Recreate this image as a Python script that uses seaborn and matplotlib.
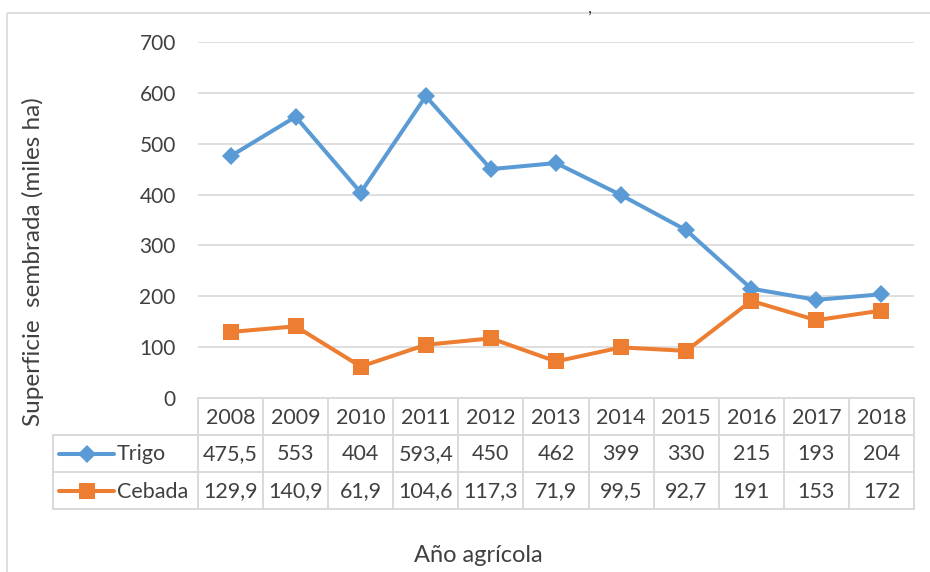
import matplotlib
matplotlib.use("Agg")
import matplotlib.pyplot as plt
import seaborn as sns
import pandas as pd
from matplotlib.lines import Line2D
from matplotlib.patches import Rectangle

years = ["2008", "2009", "2010", "2011", "2012", "2013", "2014", "2015", "2016", "2017", "2018"]
trigo = [475.5, 553, 404, 593.4, 450, 462, 399, 330, 215, 193, 204]
cebada = [129.9, 140.9, 61.9, 104.6, 117.3, 71.9, 99.5, 92.7, 191, 153, 172]
series_names = ["Trigo", "Cebada"]
y_ticks = [0, 100, 200, 300, 400, 500, 600, 700]

sns.set_theme(style="white")
plt.rcParams["font.family"] = ["Lato", "DejaVu Sans"]

W, H = 930, 572
fig = plt.figure(figsize=(W / 100, H / 100), dpi=100)

# pixel layout
L, R, T, B = 198, 914, 42, 398
ax = fig.add_axes([L / W, 1 - B / H, (R - L) / W, (B - T) / H])

blue = "#5B9BD5"
orange = "#ED7D31"
txt = "#404040"
grid = "#D9D9D9"

df = pd.DataFrame({
    "x": list(range(len(years))) * 2,
    "valor": trigo + cebada,
    "serie": [series_names[0]] * len(years) + [series_names[1]] * len(years),
})

sns.lineplot(data=df, x="x", y="valor", hue="serie", style="serie",
             palette={"Trigo": blue, "Cebada": orange},
             markers={"Trigo": "D", "Cebada": "s"}, dashes=False,
             linewidth=2.9, markersize=9, markeredgewidth=0, legend=False, ax=ax, zorder=5)
for line in ax.lines:
    if line.get_marker() == "s":
        line.set_markersize(12)

ax.set_xlim(-0.5, len(years) - 0.5)
ax.set_ylim(0, 700)
ax.set_yticks(y_ticks)
ax.set_yticklabels([str(v) for v in y_ticks], fontsize=15, color=txt)
ax.tick_params(axis="y", length=0, pad=16)
ax.set_xticks([])
ax.set_xlabel("")
ax.set_ylabel("")
for s in ax.spines.values():
    s.set_visible(False)
ax.yaxis.grid(True, color=grid, linewidth=1.2)
ax.set_axisbelow(True)

# background overlay: frame + clipped title fragment
ov = fig.add_axes([0, 0, 1, 1], zorder=-1)
ov.set_xlim(0, W)
ov.set_ylim(H, 0)
ov.axis("off")
ov.patch.set_alpha(0)
ov.add_patch(Rectangle((7, 13), W, H, fill=False, edgecolor=grid, linewidth=1.2))
ov.text(590, 8, ",", ha="center", va="center", fontsize=13, color=txt)

# foreground overlay: data table and axis titles
ov2 = fig.add_axes([0, 0, 1, 1], zorder=10)
ov2.set_xlim(0, W)
ov2.set_ylim(H, 0)
ov2.axis("off")
ov2.patch.set_alpha(0)

n = len(years)
cw = (R - L) / n
rows_y = [398, 435, 472, 509]
lkw = dict(color=grid, linewidth=1.4)
ov2.plot([L, R], [rows_y[0]] * 2, **lkw)
for yy in rows_y[1:]:
    ov2.plot([53, R], [yy] * 2, **lkw)
ov2.plot([53, 53], [rows_y[1], rows_y[3]], **lkw)
for k in range(n + 1):
    ov2.plot([L + k * cw] * 2, [rows_y[0], rows_y[3]], **lkw)


def fmt(v):
    return f"{v:g}".replace(".", ",")


fs = 15.5
for i, yr in enumerate(years):
    cx = L + (i + 0.5) * cw
    ov2.text(cx, (rows_y[0] + rows_y[1]) / 2 + 1, yr, ha="center", va="center", fontsize=fs, color=txt)
    ov2.text(cx, (rows_y[1] + rows_y[2]) / 2 + 1, fmt(trigo[i]), ha="center", va="center", fontsize=fs, color=txt)
    ov2.text(cx, (rows_y[2] + rows_y[3]) / 2 + 1, fmt(cebada[i]), ha="center", va="center", fontsize=fs, color=txt)

for r, (name, col, mk, ms) in enumerate([(series_names[0], blue, "D", 9), (series_names[1], orange, "s", 12)]):
    yc = (rows_y[r + 1] + rows_y[r + 2]) / 2
    ov2.add_line(Line2D([59, 114], [yc, yc], color=col, linewidth=2.9))
    ov2.add_line(Line2D([86.5], [yc], color=col, marker=mk, markersize=ms, markeredgewidth=0))
    ov2.text(117, yc + 1, name, ha="left", va="center", fontsize=fs, color=txt)

ov2.text(478, 556, "Año agrícola", ha="center", va="center", fontsize=17, color=txt)
ov2.text(33, 262, "Superficie  sembrada (miles ha)", ha="center", va="center",
         rotation=90, fontsize=17.5, color=txt)

fig.savefig("out.png", dpi=100, facecolor="white")
